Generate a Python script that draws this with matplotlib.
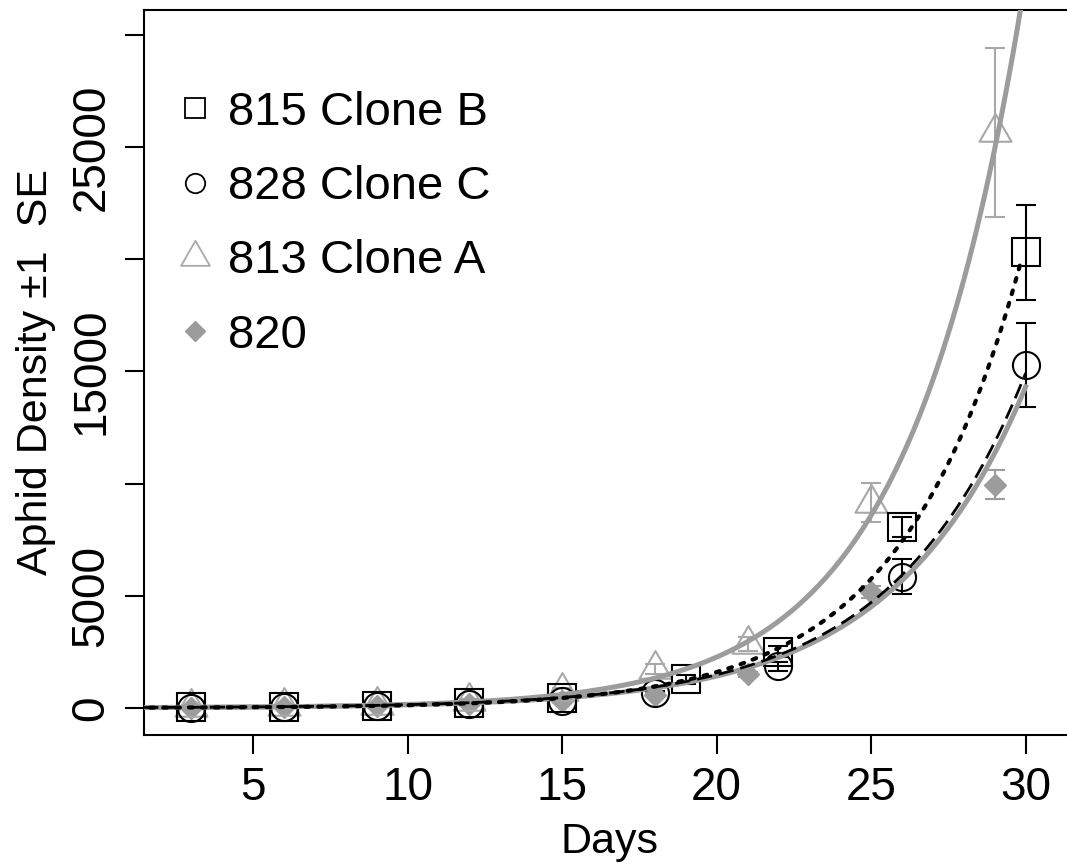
import matplotlib
matplotlib.use("Agg")
import matplotlib.pyplot as plt
import numpy as np
from matplotlib.lines import Line2D
from matplotlib.path import Path

plt.rcParams['font.family'] = ['Liberation Sans', 'DejaVu Sans']

days_B = [3, 6, 9, 12, 15, 19, 22, 26, 30]
dens_B = [30, 60, 100, 200, 440, 1270, 2500, 8050, 20300]
se_B = [20, 20, 30, 40, 80, 200, 250, 450, 2100]

days_C = [3, 6, 9, 12, 15, 18, 22, 26, 30]
dens_C = [20, 50, 90, 180, 310, 670, 1870, 5850, 15300]
se_C = [10, 20, 30, 40, 60, 100, 200, 780, 1870]

days_A = [3, 6, 9, 12, 15, 18, 21, 25, 29]
dens_A = [60, 90, 150, 320, 760, 1750, 2850, 9150, 25650]
se_A = [20, 30, 40, 60, 120, 230, 300, 870, 3760]

days_820 = [3, 6, 9, 12, 15, 18, 21, 25, 29]
dens_820 = [20, 50, 90, 180, 300, 600, 1500, 5170, 9950]
se_820 = [10, 10, 20, 30, 50, 80, 120, 250, 650]

# exponential fits  N = a * exp(b * day)
fit_A = (11.0, 0.2664)
fit_B = (9.56, 0.256)
fit_C = (14.6, 0.231)
fit_820 = (14.0, 0.231)

labels = ["815 Clone B", "828 Clone C", "813 Clone A", "820"]
xticks = [5, 10, 15, 20, 25, 30]
yticks = [0, 5000, 10000, 15000, 20000, 25000, 30000]
yticklabels = ["0", "5000", "", "15000", "", "25000", ""]

GRAY = "#9c9c9c"
TRI_GRAY = "#a8a8a8"
# triangle centred on its centroid (like R pch 2)
tri = Path([(0, 1), (-0.866, -0.5), (0.866, -0.5), (0, 1)],
           [Path.MOVETO, Path.LINETO, Path.LINETO, Path.CLOSEPOLY])

fig = plt.figure(figsize=(10.67, 8.66), dpi=100)
# plot box runs past the right edge of the picture (cropped like the original)
ax = fig.add_axes([0.135, 0.1513, 0.8726, 0.8372])

ekw = dict(capsize=7.2, elinewidth=1.5, capthick=1.5, linestyle="none", zorder=2)
ax.errorbar(days_820, dens_820, yerr=se_820, color=GRAY, marker="D", ms=11,
            mfc=GRAY, mec=GRAY, **ekw)
ax.errorbar(days_A, dens_A, yerr=se_A, color=TRI_GRAY, marker=tri, ms=26.6,
            mfc="none", mec=TRI_GRAY, mew=1.5, **ekw)
ax.errorbar(days_C, dens_C, yerr=se_C, color="black", marker="o", ms=19.5,
            mfc="none", mec="black", mew=1.5, **ekw)
ax.errorbar(days_B, dens_B, yerr=se_B, color="black", marker="s", ms=19.5,
            mfc="none", mec="black", mew=1.5, **ekw)

t = np.linspace(0, 30, 400)
ax.plot(t, fit_A[0] * np.exp(fit_A[1] * t), color=GRAY, lw=3.6, zorder=3)
ax.plot(t, fit_820[0] * np.exp(fit_820[1] * t), color=GRAY, lw=3.6, zorder=3)
ax.plot(t, fit_C[0] * np.exp(fit_C[1] * t), color="black", lw=2,
        linestyle=(0, (5.5, 2.5)), zorder=4)
tb = t[t <= 29.85]
ax.plot(tb, fit_B[0] * np.exp(fit_B[1] * tb), color="black", lw=3,
        linestyle=(0, (0.9, 2.2)), dash_capstyle="round", zorder=4)

ax.set_xlim(1.47, 31.6)
ax.set_ylim(-1203, 31105)
ax.set_xticks(xticks)
ax.set_yticks(yticks)
ax.set_yticklabels(yticklabels, rotation=90, va="center")
ax.tick_params(axis="both", length=14, width=1.5, labelsize=33, pad=8)
for s in ["left", "top", "bottom", "right"]:
    ax.spines[s].set_linewidth(1.5)
ax.set_xlabel("Days", fontsize=31, labelpad=9)
ax.set_ylabel("Aphid Density \u00b11  SE", fontsize=31, labelpad=10)

handles = [
    Line2D([], [], ls="none", marker="s", ms=15, mfc="none", mec="black", mew=1.3),
    Line2D([], [], ls="none", marker="o", ms=14, mfc="none", mec="black", mew=1.3),
    Line2D([], [], ls="none", marker=tri, ms=24, mfc="none", mec=TRI_GRAY, mew=1.3),
    Line2D([], [], ls="none", marker="D", ms=10, mfc=GRAY, mec=GRAY),
]
ax.legend(handles, labels, loc="upper left", bbox_to_anchor=(0.1603, 0.895),
          bbox_transform=fig.transFigure, frameon=False, fontsize=34,
          handlelength=1.0, handletextpad=0.2, labelspacing=0.64, borderpad=0,
          borderaxespad=0)

fig.savefig("out.png", dpi=100)
